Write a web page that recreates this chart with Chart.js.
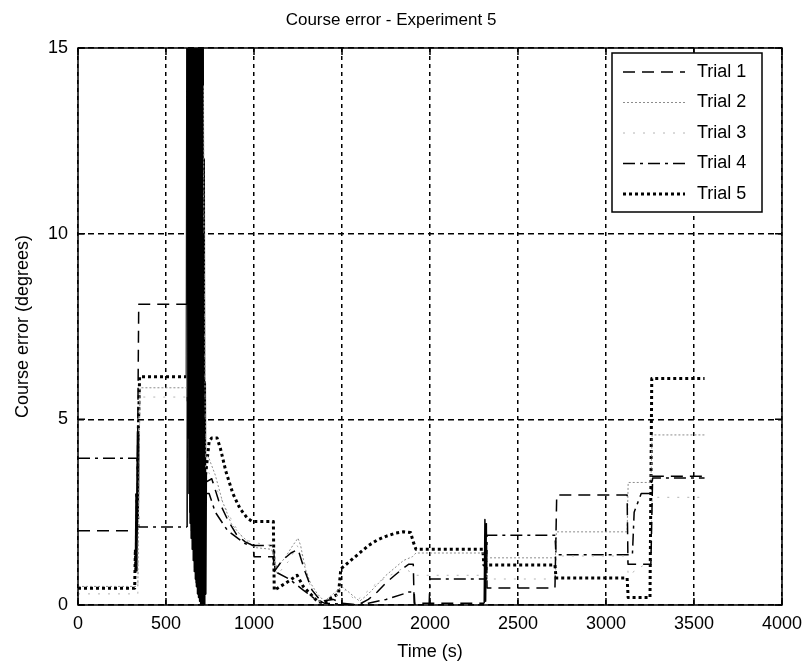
<!DOCTYPE html>
<html>
<head>
<meta charset="utf-8">
<title>Course error - Experiment 5</title>
<script src="https://cdn.jsdelivr.net/npm/chart.js@4.4.0/dist/chart.umd.min.js"></script>
<style>
  html, body { margin: 0; padding: 0; background: #fff; }
  #wrap { width: 807px; height: 669px; position: relative; }
</style>
</head>
<body>
<div id="wrap"><canvas id="courseChart"></canvas></div>
<script>
// axis ticks
const xTicks = [0, 500, 1000, 1500, 2000, 2500, 3000, 3500, 4000];
const yTicks = [0, 5, 10, 15];

const trialNames = ['Trial 1', 'Trial 2', 'Trial 3', 'Trial 4', 'Trial 5'];

// time (s) / course error (deg) per trial
const trial1Time = [0, 335, 345, 620,
  622, 625, 628, 631, 634, 637, 640, 643, 646, 649, 652, 655, 658, 661, 664, 667, 670, 673, 676, 679, 682, 685, 688, 691, 694, 697, 700, 703, 706, 709, 712, 715, 718, 721, 724,
  760, 800, 850, 900, 950, 995, 1000, 1110, 1115, 1160, 1210, 1250, 1290, 1330, 1380, 1450, 1500, 1590, 1650, 1700,
  1750, 1800, 1850, 1880, 1905, 1910, 2308, 2312, 2316, 2320, 2324, 2710, 2720, 3120, 3125, 3255, 3265, 3560];
const trial1Err = [2.0, 2.0, 8.1, 8.1,
  16, 4.5, 16, 3.0, 16, 2.2, 16, 1.8, 16, 1.5, 16, 1.2, 16, 0.9, 16, 0.7, 16, 0.5, 16, 0.3, 16, 0.2, 16, 0.1, 16, 0, 16, 0, 16, 0, 10, 0, 5, 1, 3.3,
  3.4, 2.8, 2.3, 1.9, 1.7, 1.6, 1.3, 1.3, 0.9, 1.2, 1.4, 1.5, 0.9, 0.4, 0.1, 0.15, 0.05, 0, 0.15, 0.35,
  0.6, 0.8, 1.0, 1.1, 1.1, 0.05, 0.05, 2.3, 0.1, 2.2, 0.46, 0.46, 2.96, 2.96, 1.1, 1.1, 3.47, 3.47];

const trial2Time = [0, 340, 352, 620, 622, 628, 640, 652, 664, 676, 688, 700, 712, 724,
  740, 780, 820, 870, 920, 980, 1000, 1100, 1130, 1180, 1220, 1250, 1265, 1290, 1320, 1360, 1400, 1450, 1500, 1550,
  1600, 1650, 1750, 1850, 1900, 1920, 2320, 2326, 2712, 2718, 3120, 3126, 3255, 3262, 3560];
const trial2Err = [0.5, 0.5, 5.85, 5.85, 16, 3, 16, 1.5, 16, 0.8, 16, 0.2, 14, 4.0,
  4.0, 3.5, 2.8, 2.2, 1.9, 1.65, 1.55, 1.5, 1.0, 1.3, 1.6, 1.8, 1.6, 1.0, 0.6, 0.3, 0.1, 0.3, 0.5, 0.3,
  0.1, 0.3, 0.8, 1.2, 1.3, 1.4, 1.4, 1.27, 1.27, 1.97, 1.97, 3.3, 3.3, 4.58, 4.58];

const trial3Time = [0, 340, 352, 620, 626, 640, 655, 670, 685, 700, 712, 724,
  740, 800, 860, 920, 980, 1100, 1130, 1200, 1245, 1280, 1320, 1380, 1450, 1520, 1580, 1700, 1850, 1920, 2320, 2326,
  2712, 2718, 3120, 3126, 3255, 3262, 3560];
const trial3Err = [0.3, 0.3, 5.6, 5.6, 16, 2.5, 16, 1, 16, 0.3, 12, 3.6,
  3.6, 3.0, 2.4, 1.9, 1.7, 1.6, 0.8, 1.2, 1.6, 1.3, 0.5, 0.05, 0.2, 0.4, 0.1, 0.6, 1.0, 0.8, 0.8, 0.7,
  0.7, 1.32, 1.32, 0.8, 1.2, 2.9, 2.9];

const trial4Time = [0, 335, 345, 620,
  624, 627, 633, 636, 642, 645, 651, 654, 660, 663, 669, 672, 678, 681, 687, 690, 696, 699, 705, 708, 714, 717, 720,
  745, 780, 850, 950, 1000, 1110, 1120, 1200, 1280, 1350, 1400, 1590, 1650, 1750, 1850, 1880, 1910, 1914, 1995, 2000,
  2322, 2324, 2710, 2716, 3150, 3160, 3200, 3255, 3265, 3560];
const trial4Err = [3.95, 3.95, 2.1, 2.1,
  16, 4, 16, 2.5, 16, 2, 16, 1.5, 16, 1.0, 16, 0.6, 16, 0.3, 16, 0.2, 16, 0, 16, 0, 9, 0.2, 3.0,
  3.0, 2.5, 2.0, 1.65, 1.6, 1.6, 0.9, 0.7, 0.4, 0.15, 0.05, 0, 0.05, 0.15, 0.3, 0.35, 0.35, 0, 0, 0.7,
  0.7, 1.88, 1.88, 1.35, 1.35, 2.5, 3.0, 3.0, 3.42, 3.42];

const trial5Time = [0, 322, 326, 330, 334, 338, 342, 346, 350, 620,
  623, 626, 629, 632, 635, 638, 641, 644, 647, 650, 653, 656, 659, 662, 665, 668, 671, 674, 677, 680, 683, 686, 689, 692, 695, 698, 701, 704, 707, 710, 713, 716, 719, 722, 725,
  745, 760, 790, 810, 840, 880, 920, 960, 990, 1110, 1115, 1150, 1200, 1245, 1280, 1320, 1360, 1400, 1440, 1480,
  1492, 1500, 1550, 1600, 1650, 1700, 1750, 1800, 1850, 1890, 1905, 1920, 2300, 2306, 2710, 2716, 3120, 3126, 3250, 3260, 3560];
const trial5Err = [0.45, 0.45, 1.5, 0.9, 3.0, 2.4, 4.6, 5.3, 6.15, 6.15,
  16, 5.5, 16, 4.2, 16, 3.4, 16, 2.8, 16, 2.1, 16, 1.7, 16, 1.3, 16, 1.0, 16, 0.7, 16, 0.5, 16, 0.4, 16, 0.3, 16, 0.2, 16, 0.1, 16, 0, 12, 0, 6, 0.3, 3.5,
  4.4, 4.5, 4.5, 4.2, 3.6, 3.0, 2.6, 2.35, 2.25, 2.25, 0.4, 0.5, 0.65, 0.8, 0.5, 0.3, 0.1, 0.05, 0.2, 0.3,
  0.9, 1.0, 1.2, 1.4, 1.6, 1.75, 1.85, 1.93, 1.97, 1.95, 1.7, 1.5, 1.5, 1.08, 1.08, 0.73, 0.73, 0.2, 0.2, 6.1, 6.1];

function toPoints(t, v) {
  return t.map((x, i) => ({ x: x, y: v[i] }));
}

// the fast oscillation is drawn solid so it fills in like a dark band
const denseSegment = {
  borderDash: function (c) {
    const dx = c.p1.parsed.x - c.p0.parsed.x;
    const dy = Math.abs(c.p1.parsed.y - c.p0.parsed.y);
    return (dx > 0 && dx <= 6 && dy > 2) ? [] : undefined;
  }
};

function trialSet(i, t, v, color, width, dash) {
  return {
    label: trialNames[i],
    data: toPoints(t, v),
    borderColor: color,
    borderWidth: width,
    borderDash: dash,
    borderJoinStyle: 'round',
    pointRadius: 0,
    tension: 0,
    fill: false,
    segment: denseSegment
  };
}

const FONT = "'Liberation Sans', Arial, Helvetica, sans-serif";
Chart.defaults.font.family = FONT;
Chart.defaults.color = '#000';

// frame, inward tick marks and the boxed legend
const framePlugin = {
  id: 'frame',
  afterDraw(chart) {
    const ctx = chart.ctx;
    const a = chart.chartArea;
    const sx = chart.scales.x, sy = chart.scales.y;
    ctx.save();
    ctx.setLineDash([]);
    ctx.strokeStyle = '#000';
    ctx.lineWidth = 1.5;
    ctx.strokeRect(a.left, a.top, a.right - a.left, a.bottom - a.top);

    ctx.beginPath();
    xTicks.forEach(function (v) {
      const px = sx.getPixelForValue(v);
      ctx.moveTo(px, a.bottom); ctx.lineTo(px, a.bottom - 7);
      ctx.moveTo(px, a.top); ctx.lineTo(px, a.top + 7);
    });
    yTicks.forEach(function (v) {
      const py = sy.getPixelForValue(v);
      ctx.moveTo(a.left, py); ctx.lineTo(a.left + 7, py);
      ctx.moveTo(a.right, py); ctx.lineTo(a.right - 7, py);
    });
    ctx.stroke();

    // legend
    const bw = 150, bh = 159;
    const bx = a.right - 20 - bw, by = a.top + 5;
    ctx.fillStyle = '#fff';
    ctx.fillRect(bx, by, bw, bh);
    ctx.lineWidth = 1.5;
    ctx.strokeRect(bx, by, bw, bh);
    ctx.font = '18px ' + FONT;
    ctx.textBaseline = 'middle';
    chart.data.datasets.forEach(function (ds, i) {
      const ly = by + 19 + i * 30.5;
      ctx.save();
      ctx.strokeStyle = ds.borderColor;
      ctx.lineWidth = ds.borderWidth;
      ctx.setLineDash(ds.borderDash);
      ctx.beginPath();
      ctx.moveTo(bx + 11, ly);
      ctx.lineTo(bx + 73, ly);
      ctx.stroke();
      ctx.restore();
      ctx.fillStyle = '#000';
      ctx.fillText(ds.label, bx + 85, ly);
    });
    ctx.restore();
  }
};

new Chart(document.getElementById('courseChart'), {
  type: 'line',
  data: {
    datasets: [
      trialSet(0, trial1Time, trial1Err, '#000', 1.5, [12, 7]),
      trialSet(1, trial2Time, trial2Err, '#8c8c8c', 1, [2, 2]),
      trialSet(2, trial3Time, trial3Err, '#b4b4b4', 1, [2, 8]),
      trialSet(3, trial4Time, trial4Err, '#000', 1.5, [12, 5, 3, 5]),
      trialSet(4, trial5Time, trial5Err, '#000', 3, [3, 3])
    ]
  },
  options: {
    responsive: true,
    maintainAspectRatio: false,
    animation: false,
    layout: { padding: { left: 0, right: 25, top: 0, bottom: 0 } },
    plugins: {
      legend: { display: false },
      tooltip: { enabled: false },
      title: {
        display: true,
        text: 'Course error - Experiment 5',
        font: { size: 17, weight: 'normal' },
        color: '#000',
        padding: { top: 10, bottom: 17.6 }
      }
    },
    scales: {
      x: {
        type: 'linear',
        min: 0,
        max: 4000,
        afterBuildTicks: function (axis) { axis.ticks = xTicks.map(v => ({ value: v })); },
        afterFit: function (axis) { axis.height = 64; axis.paddingLeft = 0; axis.paddingRight = 0; },
        ticks: { font: { size: 18 }, color: '#000', padding: 8, maxRotation: 0, callback: v => String(v) },
        grid: { color: '#000', lineWidth: 1.5, drawTicks: false },
        border: { display: false, dash: [4, 4] },
        title: { display: true, text: 'Time (s)', font: { size: 18 }, color: '#000', padding: { top: 0, bottom: 6 } }
      },
      y: {
        min: 0,
        max: 15,
        afterBuildTicks: function (axis) { axis.ticks = yTicks.map(v => ({ value: v })); },
        afterFit: function (axis) { axis.width = 78; axis.paddingTop = 0; axis.paddingBottom = 0; },
        ticks: { font: { size: 18 }, color: '#000', padding: 10, callback: v => String(v) },
        grid: { color: '#000', lineWidth: 1.5, drawTicks: false },
        border: { display: false, dash: [6, 4] },
        title: { display: true, text: 'Course error (degrees)', font: { size: 18 }, color: '#000', padding: 12 }
      }
    }
  },
  plugins: [framePlugin]
});
</script>
</body>
</html>
